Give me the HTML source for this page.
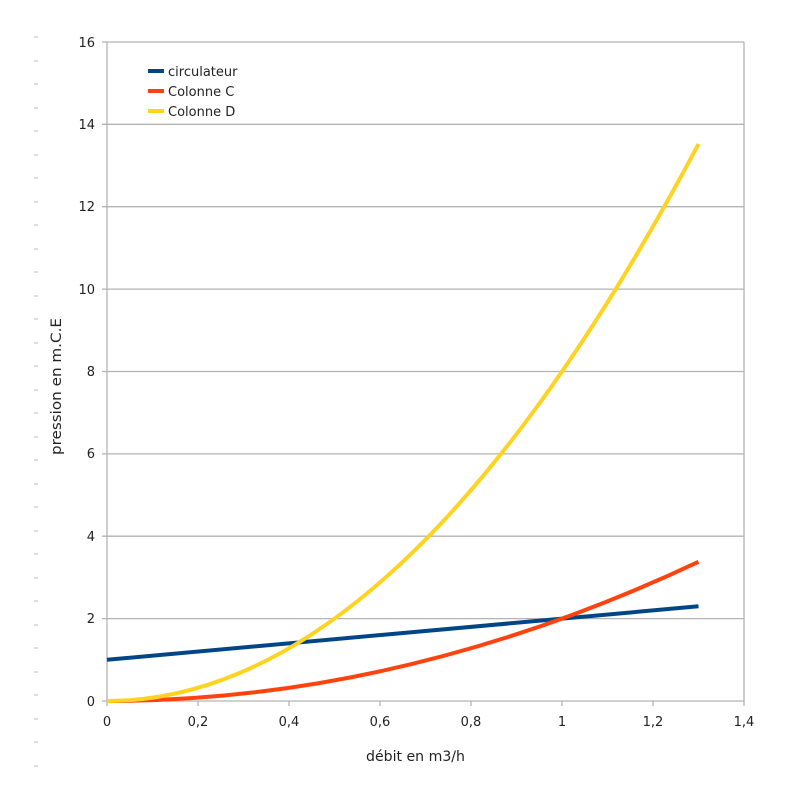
<!DOCTYPE html>
<html><head><meta charset="utf-8"><style>body{margin:0;background:#fff}svg{display:block}text{font-family:"DejaVu Sans",sans-serif;font-size:13px;fill:#222}</style></head>
<body>
<svg width="800" height="800" viewBox="0 0 800 800">
<g stroke="#bbb" stroke-width="1">
<line x1="34" x2="38" y1="37" y2="37"/><line x1="34" x2="38" y1="61" y2="61"/><line x1="34" x2="38" y1="84" y2="84"/><line x1="34" x2="38" y1="108" y2="108"/><line x1="34" x2="38" y1="131" y2="131"/><line x1="34" x2="38" y1="155" y2="155"/><line x1="34" x2="38" y1="178" y2="178"/><line x1="34" x2="38" y1="202" y2="202"/><line x1="34" x2="38" y1="225" y2="225"/><line x1="34" x2="38" y1="249" y2="249"/><line x1="34" x2="38" y1="272" y2="272"/><line x1="34" x2="38" y1="296" y2="296"/><line x1="34" x2="38" y1="319" y2="319"/><line x1="34" x2="38" y1="343" y2="343"/><line x1="34" x2="38" y1="366" y2="366"/><line x1="34" x2="38" y1="390" y2="390"/><line x1="34" x2="38" y1="413" y2="413"/><line x1="34" x2="38" y1="437" y2="437"/><line x1="34" x2="38" y1="460" y2="460"/><line x1="34" x2="38" y1="484" y2="484"/><line x1="34" x2="38" y1="507" y2="507"/><line x1="34" x2="38" y1="531" y2="531"/><line x1="34" x2="38" y1="554" y2="554"/><line x1="34" x2="38" y1="578" y2="578"/><line x1="34" x2="38" y1="601" y2="601"/><line x1="34" x2="38" y1="625" y2="625"/><line x1="34" x2="38" y1="648" y2="648"/><line x1="34" x2="38" y1="672" y2="672"/><line x1="34" x2="38" y1="695" y2="695"/><line x1="34" x2="38" y1="719" y2="719"/><line x1="34" x2="38" y1="742" y2="742"/><line x1="34" x2="38" y1="766" y2="766"/>
</g>
<g stroke="#b3b3b3" stroke-width="1.3">
<line x1="102" x2="744" y1="42" y2="42"/><line x1="102" x2="744" y1="124.3" y2="124.3"/><line x1="102" x2="744" y1="206.7" y2="206.7"/><line x1="102" x2="744" y1="289.1" y2="289.1"/><line x1="102" x2="744" y1="371.5" y2="371.5"/><line x1="102" x2="744" y1="453.9" y2="453.9"/><line x1="102" x2="744" y1="536.2" y2="536.2"/><line x1="102" x2="744" y1="618.6" y2="618.6"/><line x1="102" x2="744" y1="701" y2="701"/>
<line x1="107" x2="107" y1="42" y2="706"/><line x1="744" x2="744" y1="42" y2="706"/>
<line x1="198" x2="198" y1="701" y2="706"/><line x1="289" x2="289" y1="701" y2="706"/><line x1="380" x2="380" y1="701" y2="706"/><line x1="471" x2="471" y1="701" y2="706"/><line x1="562" x2="562" y1="701" y2="706"/><line x1="653" x2="653" y1="701" y2="706"/>
</g>
<g text-anchor="end">
<text x="95" y="47">16</text><text x="95" y="129">14</text><text x="95" y="211">12</text><text x="95" y="294">10</text><text x="95" y="376">8</text><text x="95" y="458">6</text><text x="95" y="541">4</text><text x="95" y="623">2</text><text x="95" y="706">0</text>
</g>
<g text-anchor="middle">
<text x="107" y="726">0</text><text x="198" y="726">0,2</text><text x="289" y="726">0,4</text><text x="380" y="726">0,6</text><text x="471" y="726">0,8</text><text x="562" y="726">1</text><text x="653" y="726">1,2</text><text x="744" y="726">1,4</text>
</g>
<text x="366" y="761" style="font-size:14px" textLength="99" lengthAdjust="spacingAndGlyphs">débit en m3/h</text>
<text transform="translate(61,455) rotate(-90)" style="font-size:14px" textLength="137" lengthAdjust="spacingAndGlyphs">pression en m.C.E</text>
<g fill="none" stroke-width="4" stroke-linecap="butt">
<path d="M107,659.8 L698.5,606.3" stroke="#004586"/>
<path d="M107,701 Q402.75,701 698.5,561.8" stroke="#ff420e"/>
<path d="M107,701 Q402.75,701 698.5,144.1" stroke="#ffd320"/>
</g>
<g stroke-width="4">
<line x1="148" x2="164" y1="71" y2="71" stroke="#004586"/>
<line x1="148" x2="164" y1="91" y2="91" stroke="#ff420e"/>
<line x1="148" x2="164" y1="111" y2="111" stroke="#ffd320"/>
</g>
<text x="168" y="76">circulateur</text>
<text x="168" y="96">Colonne C</text>
<text x="168" y="116">Colonne D</text>
</svg>
</body></html>
